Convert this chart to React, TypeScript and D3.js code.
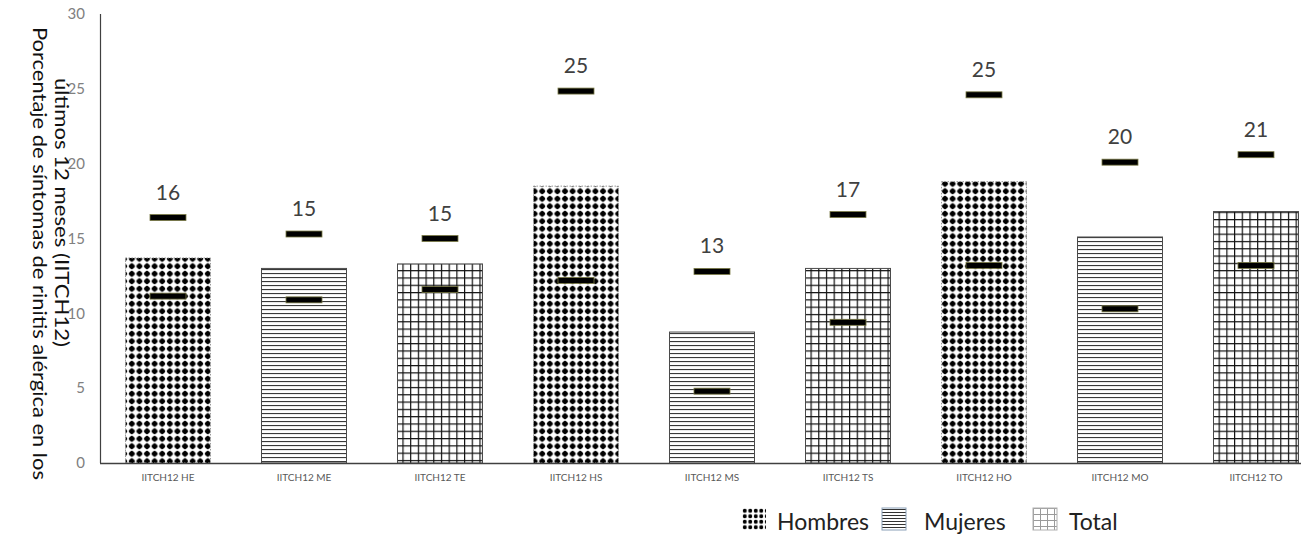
import React from "react";
import * as d3 from "d3";

// Categories (indicator + sex + group) and their groups
const categories = [
  "IITCH12 HE", "IITCH12 ME", "IITCH12 TE",
  "IITCH12 HS", "IITCH12 MS", "IITCH12 TS",
  "IITCH12 HO", "IITCH12 MO", "IITCH12 TO",
];
const sexes = ["H", "M", "T", "H", "M", "T", "H", "M", "T"];

// Bar value (%)
const barValues = [13.7, 13.0, 13.3, 18.5, 8.75, 13.0, 18.8, 15.1, 16.8];
// Upper and lower marks
const upperValues = [16.4, 15.3, 15.0, 24.85, 12.8, 16.6, 24.6, 20.1, 20.6];
const lowerValues = [11.15, 10.9, 11.6, 12.2, 4.8, 9.4, 13.2, 10.3, 13.2];

const yTicks = [0, 5, 10, 15, 20, 25, 30];
const legendItems = [
  { key: "H", label: "Hombres" },
  { key: "M", label: "Mujeres" },
  { key: "T", label: "Total" },
];
const yTitleLines = [
  "Porcentaje de síntomas de rinitis alérgica en los",
  "últimos 12 meses (IITCH12)",
];

const W = 1301;
const H = 541;
const font = "Lato, 'Open Sans', sans-serif";

export default function App() {
  const x = d3
    .scaleBand<string>()
    .domain(categories)
    .range([100, 1324])
    .paddingInner(0.375)
    .paddingOuter(0.1875);
  const y = d3.scaleLinear().domain([0, 30]).range([463, 14]);
  const bw = x.bandwidth();
  const fmt = d3.format(".0f");
  const fillFor = (s: string) => (s === "H" ? "url(#pH)" : s === "M" ? "url(#pM)" : "url(#pT)");
  const legendFill = (s: string) => (s === "H" ? "url(#lH)" : s === "M" ? "url(#lM)" : "url(#lT)");
  const legendX: Record<string, number> = { H: 742, M: 882, T: 1033 };
  const legendTextX: Record<string, number> = { H: 777, M: 924, T: 1069 };
  const titlePos = [
    { x: 40, start: 27, len: 453 },
    { x: 62, start: 78, len: 269 },
  ];

  return (
    <svg
      width={W}
      height={H}
      style={{ position: "absolute", left: 0, top: 0, background: "#fff" }}
      fontFamily={font}
    >
      <defs>
        <pattern id="pH" patternUnits="userSpaceOnUse" width={7.6} height={7.5} x={128} y={0}>
          <rect width={7.6} height={7.5} fill="#fff" />
          <path d="M3.8,0.4 L7.1,3.75 L3.8,7.1 L0.5,3.75 Z" fill="#000" />
          <circle cx={3.8} cy={3.75} r={2.6} fill="#000" />
        </pattern>
        <pattern id="pM" patternUnits="userSpaceOnUse" width={8} height={4} x={0} y={1}>
          <rect width={8} height={4} fill="#fff" />
          <rect y={0} width={8} height={1.1} fill="#3a3a3a" />
        </pattern>
        <pattern id="pT" patternUnits="userSpaceOnUse" width={7.7} height={7.3} x={2} y={0}>
          <rect width={7.7} height={7.3} fill="#fff" />
          <rect x={0} y={0} width={1.2} height={7.3} fill="#111" />
          <rect x={0} y={0} width={7.7} height={1.2} fill="#111" />
        </pattern>
        <pattern id="lH" patternUnits="userSpaceOnUse" width={5.5} height={5.5} x={742} y={508}>
          <rect width={5.5} height={5.5} fill="#fff" />
          <circle cx={2.75} cy={2.75} r={2} fill="#000" />
        </pattern>
        <pattern id="lM" patternUnits="userSpaceOnUse" width={6} height={3} x={0} y={509}>
          <rect width={6} height={3} fill="#fff" />
          <rect width={6} height={1} fill="#333" />
        </pattern>
        <pattern id="lT" patternUnits="userSpaceOnUse" width={7} height={6} x={1033} y={508}>
          <rect width={7} height={6} fill="#fff" />
          <rect width={1} height={6} fill="#9a9a9a" />
          <rect width={7} height={1} fill="#9a9a9a" />
        </pattern>
      </defs>

      {/* y tick labels */}
      {yTicks.map((t) => (
        <text
          key={t}
          x={85}
          y={y(t)}
          dy="0.35em"
          textAnchor="end"
          fontSize={15}
          fill="#808080"
        >
          {t}
        </text>
      ))}

      {/* y axis title */}
      {yTitleLines.map((line, i) => (
        <text
          key={i}
          transform={`translate(${titlePos[i].x},${titlePos[i].start}) rotate(90)`}
          textAnchor="start"
          dy="0.35em"
          fontSize={19}
          fill="#111"
          textLength={titlePos[i].len}
          lengthAdjust="spacingAndGlyphs"
        >
          {line}
        </text>
      ))}

      {/* bars */}
      {categories.map((c, i) => (
        <rect
          key={c}
          x={x(c)}
          y={y(barValues[i])}
          width={bw}
          height={y(0) - y(barValues[i])}
          fill={fillFor(sexes[i])}
          stroke={sexes[i] === "H" ? "#9a9a9a" : "#4a4a4a"}
          strokeWidth={1}
          strokeDasharray={sexes[i] === "H" ? "1.5 1.5" : undefined}
        />
      ))}

      {/* axes */}
      <line x1={100.5} x2={100.5} y1={y(30)} y2={y(0)} stroke="#404040" strokeWidth={1.2} />
      <line x1={100} x2={W} y1={y(0) + 0.5} y2={y(0) + 0.5} stroke="#404040" strokeWidth={1.4} />

      {/* x tick labels */}
      {categories.map((c) => (
        <text
          key={c}
          x={(x(c) as number) + bw / 2}
          y={481}
          textAnchor="middle"
          fontSize={10}
          fill="#595959"
        >
          {c}
        </text>
      ))}

      {/* upper and lower marks with value labels */}
      {categories.map((c, i) => {
        const cx = (x(c) as number) + bw / 2;
        return (
          <g key={c}>
            <rect
              x={cx - 18}
              y={y(upperValues[i]) - 3}
              width={36}
              height={6}
              fill="#000"
              stroke="#7a7a45"
              strokeWidth={0.8}
            />
            <rect
              x={cx - 18}
              y={y(lowerValues[i]) - 3}
              width={36}
              height={6}
              fill="#000"
              stroke="#7a7a45"
              strokeWidth={0.8}
            />
            <text
              x={cx}
              y={y(upperValues[i]) - 18}
              textAnchor="middle"
              fontSize={21}
              fill="#404040"
            >
              {fmt(upperValues[i])}
            </text>
          </g>
        );
      })}

      {/* legend */}
      {legendItems.map((it) => (
        <g key={it.key}>
          <rect
            x={legendX[it.key]}
            y={508}
            width={24}
            height={22}
            fill={legendFill(it.key)}
            stroke={it.key === "M" ? "#8aa0b8" : it.key === "T" ? "#b0b0b0" : "none"}
            strokeWidth={1}
          />
          <text x={legendTextX[it.key]} y={530} fontSize={23} fill="#222">
            {it.label}
          </text>
        </g>
      ))}
    </svg>
  );
}
